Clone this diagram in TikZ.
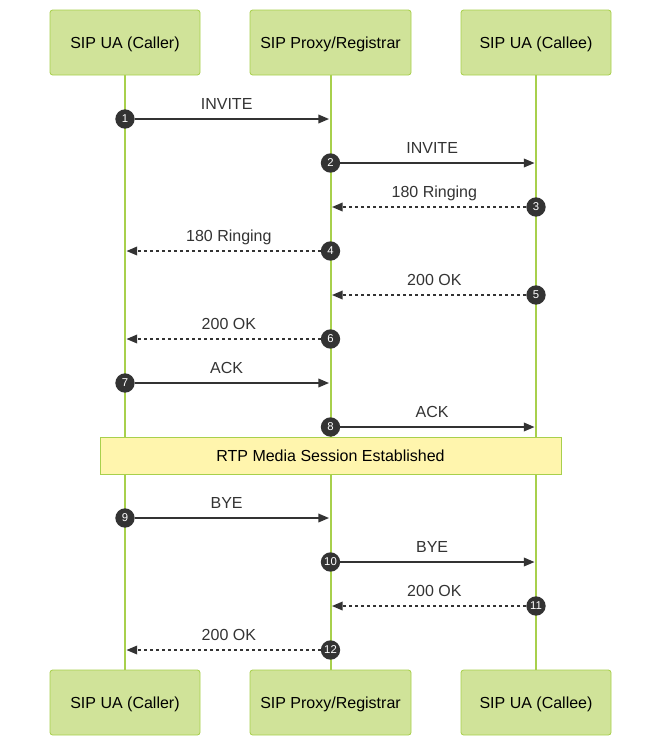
\documentclass[tikz,border=0pt]{standalone}
\usepackage{fontspec}
\setmainfont{Liberation Sans}
\usetikzlibrary{arrows.meta}
\usetikzlibrary{positioning}
\definecolor{actfill}{RGB}{208,227,153}
\definecolor{actline}{RGB}{168,208,76}
\definecolor{notefill}{RGB}{255,245,173}
\definecolor{ink}{RGB}{51,51,51}
\tikzset{x=0.75pt, y=-0.75pt, % one unit is one pixel of the layout
      actor/.style={ % Boxes at both ends of a lifeline
      draw=actline, fill=actfill, semithick,
      rounded corners=2pt, text depth=0pt,
      minimum width=112.5pt, minimum height=48.75pt,
      font=\fontsize{12}{14}\selectfont},
      life/.style={draw=actline, line width=1.5pt}, % Lifelines
      note/.style={ % Note across all lifelines
      draw=actline, fill=notefill, semithick, text depth=0pt,
      minimum width=345.75pt, minimum height=27.75pt,
      font=\fontsize{12}{14}\selectfont},
      num/.style={ % Sequence numbers
      circle, fill=ink, text=white, inner sep=0pt,
      minimum size=14.5pt, font=\fontsize{8.5}{9}\selectfont},
      msg/.style={ % Request messages
      draw=ink, line width=1.1pt,
      -{Triangle[length=8pt,width=6.5pt]},
      nodes={xshift=-4pt}},
      reply/.style={ % Responses
      draw=ink, line width=1.1pt, dash pattern=on 2.25pt off 2.25pt,
      -{Triangle[length=8pt,width=6.5pt]},
      nodes={xshift=4pt}},
      lbl/.style={anchor=base, yshift=7pt, text=ink,
      font=\fontsize{12}{14}\selectfont}}

\begin{document}
\begin{tikzpicture}
      \useasboundingbox (0,0) rectangle (661,746);
      % lifelines first, everything else on top
      \coordinate (caller) at (125,42.5);
      \coordinate (proxy) at (330.5,42.5);
      \coordinate (callee) at (536,42.5);
      \draw[life] (125,75) -- (125,670);
      \draw[life] (330.5,75) -- (330.5,670);
      \draw[life] (536,75) -- (536,670);
      \node[actor] (ta) at (caller) {SIP UA (Caller)};
      \node[actor, minimum width=120.75pt] (tb) at (proxy) {SIP Proxy/Registrar};
      \node[actor] (tc) at (callee) {SIP UA (Callee)};
      \node[actor] (ba) at (125,702.5) {SIP UA (Caller)};
      \node[actor, minimum width=120.75pt] (bb) at (330.5,702.5) {SIP Proxy/Registrar};
      \node[actor] (bc) at (536,702.5) {SIP UA (Callee)};
      \node[note] (rtp) at (330.5,455.5) {RTP Media Session Established};

      \node[num] (n1) at (125,119) {1};
      \coordinate (r1) at (329,119);
      \draw[msg] (n1) -- (r1) node[lbl, midway] {INVITE};
      \node[num] (n2) at (330.5,163) {2};
      \coordinate (r2) at (534.5,163);
      \draw[msg] (n2) -- (r2) node[lbl, midway] {INVITE};
      \node[num] (n3) at (536,207) {3};
      \coordinate (r3) at (332,207);
      \draw[reply] (n3) -- (r3) node[lbl, midway] {180 Ringing};
      \node[num] (n4) at (330.5,251) {4};
      \coordinate (r4) at (126.5,251);
      \draw[reply] (n4) -- (r4) node[lbl, midway] {180 Ringing};
      \node[num] (n5) at (536,295) {5};
      \coordinate (r5) at (332,295);
      \draw[reply] (n5) -- (r5) node[lbl, midway] {200 OK};
      \node[num] (n6) at (330.5,339) {6};
      \coordinate (r6) at (126.5,339);
      \draw[reply] (n6) -- (r6) node[lbl, midway] {200 OK};
      \node[num] (n7) at (125,383) {7};
      \coordinate (r7) at (329,383);
      \draw[msg] (n7) -- (r7) node[lbl, midway] {ACK};
      \node[num] (n8) at (330.5,427) {8};
      \coordinate (r8) at (534.5,427);
      \draw[msg] (n8) -- (r8) node[lbl, midway] {ACK};

      \node[num] (n9) at (125,518) {9};
      \coordinate (r9) at (329,518);
      \draw[msg] (n9) -- (r9) node[lbl, midway] {BYE};
      \node[num] (n10) at (330.5,562) {10};
      \coordinate (r10) at (534.5,562);
      \draw[msg] (n10) -- (r10) node[lbl, midway] {BYE};
      \node[num] (n11) at (536,606) {11};
      \coordinate (r11) at (332,606);
      \draw[reply] (n11) -- (r11) node[lbl, midway] {200 OK};
      \node[num] (n12) at (330.5,650) {12};
      \coordinate (r12) at (126.5,650);
      \draw[reply] (n12) -- (r12) node[lbl, midway] {200 OK};
\end{tikzpicture}
\end{document}
